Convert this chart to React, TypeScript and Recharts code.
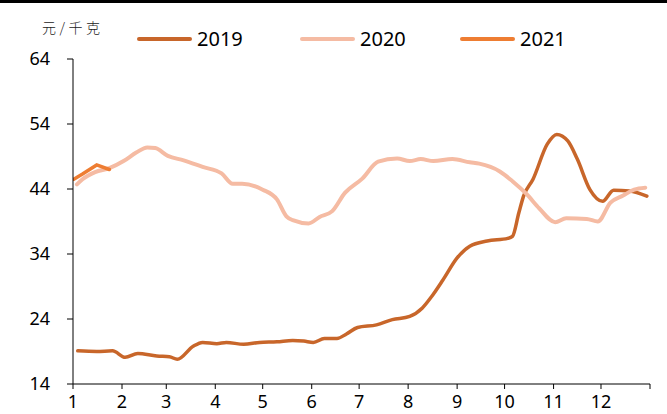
import React from 'react';
import { LineChart, Line, XAxis, YAxis, Legend } from 'recharts';

const monthTicks = [0, 31, 59, 90, 120, 151, 181, 212, 243, 273, 304, 334, 365];
const monthLabels = ['1', '2', '3', '4', '5', '6', '7', '8', '9', '10', '11', '12', ''];
const yTicks = [14, 24, 34, 44, 54, 64];

const days2019 = [3, 15, 25, 33, 41, 53, 61, 66, 76, 82, 91, 97, 108, 118, 129, 139, 146, 152, 159, 167, 173, 180, 192, 202, 213, 221, 227, 234, 243, 251, 262, 275, 278, 282, 285, 291, 300, 306, 313, 319, 327, 335, 342, 352, 363];
const values2019 = [19.1, 19.0, 19.1, 18.1, 18.7, 18.3, 18.2, 17.8, 19.8, 20.4, 20.2, 20.4, 20.1, 20.4, 20.5, 20.7, 20.6, 20.4, 21.0, 21.0, 21.7, 22.7, 23.1, 23.9, 24.4, 25.7, 27.5, 30.0, 33.4, 35.2, 36.0, 36.4, 36.7, 40.3, 42.9, 45.5, 50.9, 52.4, 51.4, 48.6, 43.9, 42.1, 43.8, 43.7, 42.9];

const days2020 = [2.5, 6, 14, 23, 32, 40, 47, 52, 60, 70, 82, 94, 101, 107, 120, 129, 135, 139, 149, 156, 164, 172, 183, 193, 205, 213, 220, 228, 240, 251, 257, 270, 278, 287, 295, 305, 312, 325, 332, 340, 348, 355, 362];
const values2020 = [44.7, 45.5, 46.6, 47.2, 48.3, 49.6, 50.4, 50.3, 49.1, 48.4, 47.4, 46.4, 44.8, 44.8, 43.9, 42.4, 39.8, 39.2, 38.7, 39.7, 40.6, 43.4, 45.6, 48.2, 48.7, 48.3, 48.6, 48.3, 48.6, 48.1, 47.9, 46.7, 45.2, 43.2, 41.0, 38.9, 39.5, 39.4, 39.0, 41.9, 43.0, 43.9, 44.2];

const days2021 = [0.5, 6, 15, 23];
const values2021 = [45.5, 46.3, 47.7, 47.0];

const seriesNames = ['2019', '2020', '2021'];
const seriesColors = ['#C8662A', '#F5BBA3', '#EE7D32'];

const toRows = (days: number[], vals: number[]) => days.map((d, i) => ({ day: d, v: vals[i] }));

const data2019 = toRows(days2019, values2019);
const data2020 = toRows(days2020, values2020);
const data2021 = toRows(days2021, values2021);

const tickFont = { fontFamily: '"Noto Sans", sans-serif', fontSize: 18, fill: '#000' };

const renderLegend = (props: any) => {
  const payload = props.payload || [];
  const lefts = [137, 300, 460];
  return (
    <div style={{ position: 'relative', width: 667, height: 0 }}>
      {payload.map((p: any, i: number) => (
        <div
          key={p.value}
          style={{
            position: 'absolute',
            left: lefts[i],
            top: 26,
            display: 'flex',
            alignItems: 'center',
            fontFamily: '"Noto Sans", sans-serif',
            fontSize: 20,
            color: '#000',
            lineHeight: '26px',
            whiteSpace: 'nowrap',
          }}
        >
          <span style={{ display: 'inline-block', width: 55, height: 4, borderRadius: 2, background: p.color, marginRight: 5 }} />
          <span>{p.value}</span>
        </div>
      ))}
    </div>
  );
};

export default function App() {
  return (
    <div style={{ position: 'absolute', left: 0, top: 0, width: 667, height: 414, background: '#fff', overflow: 'hidden' }}>
      <div style={{ position: 'absolute', left: 0, top: 0, width: 667, height: 3, background: '#000' }} />
      <div
        style={{
          position: 'absolute',
          left: 42,
          top: 17,
          fontFamily: '"Noto Sans CJK SC", sans-serif',
          fontSize: 14,
          fontWeight: 300,
          letterSpacing: 3.5,
          color: '#222',
        }}
      >
        元/千克
      </div>
      <LineChart width={667} height={414} margin={{ top: 59, right: 17, bottom: 0, left: 0 }}>
        <XAxis
          type="number"
          dataKey="day"
          domain={[0, 365]}
          ticks={monthTicks}
          interval={0}
          tickFormatter={(v: number) => monthLabels[monthTicks.indexOf(v)] ?? ''}
          height={30}
          tickSize={5}
          tickMargin={6}
          axisLine={{ stroke: '#000', strokeWidth: 1 }}
          tickLine={{ stroke: '#000', strokeWidth: 1 }}
          tick={tickFont}
          allowDataOverflow
        />
        <YAxis
          type="number"
          domain={[14, 64]}
          ticks={yTicks}
          interval={0}
          width={73}
          tickSize={6}
          tickMargin={17}
          axisLine={{ stroke: '#000', strokeWidth: 1 }}
          tickLine={{ stroke: '#000', strokeWidth: 1 }}
          tick={tickFont}
        />
        <Legend
          verticalAlign="top"
          content={renderLegend}
          wrapperStyle={{ position: 'absolute', left: 0, top: 0, width: 667, height: 0 }}
        />
        <Line data={data2019} dataKey="v" name={seriesNames[0]} type="monotone" stroke={seriesColors[0]} strokeWidth={3.5} dot={false} isAnimationActive={false} strokeLinecap="round" />
        <Line data={data2020} dataKey="v" name={seriesNames[1]} type="monotone" stroke={seriesColors[1]} strokeWidth={4} dot={false} isAnimationActive={false} strokeLinecap="round" />
        <Line data={data2021} dataKey="v" name={seriesNames[2]} type="linear" stroke={seriesColors[2]} strokeWidth={3.5} dot={false} isAnimationActive={false} strokeLinecap="round" />
      </LineChart>
    </div>
  );
}
